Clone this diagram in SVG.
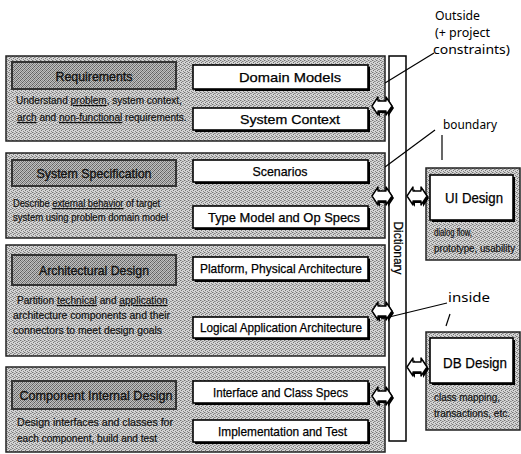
<svg xmlns="http://www.w3.org/2000/svg" width="521" height="454" viewBox="0 0 521 454">
  <defs>
    <!-- halftone screens for the shaded panels -->
    <pattern id="screen" width="4" height="4" patternUnits="userSpaceOnUse">
      <rect width="4" height="4" fill="#d4d4d4"/>
      <rect x="0" y="0" width="1" height="1" fill="#747474"/>
      <rect x="2" y="1" width="1" height="1" fill="#858585"/>
      <rect x="1" y="2" width="1" height="1" fill="#747474"/>
      <rect x="3" y="3" width="1" height="1" fill="#858585"/>
      <rect x="3" y="1" width="1" height="1" fill="#a0a0a0"/>
      <rect x="1" y="0" width="1" height="1" fill="#acacac"/>
    </pattern>
    <pattern id="screenDark" width="4" height="4" patternUnits="userSpaceOnUse">
      <rect width="4" height="4" fill="#c0c0c0"/>
      <rect x="0" y="0" width="1" height="1" fill="#5a5a5a"/>
      <rect x="2" y="0" width="1" height="1" fill="#8a8a8a"/>
      <rect x="1" y="1" width="1" height="1" fill="#7a7a7a"/>
      <rect x="3" y="1" width="1" height="1" fill="#6a6a6a"/>
      <rect x="0" y="2" width="1" height="1" fill="#8a8a8a"/>
      <rect x="2" y="2" width="1" height="1" fill="#5a5a5a"/>
      <rect x="1" y="3" width="1" height="1" fill="#6a6a6a"/>
      <rect x="3" y="3" width="1" height="1" fill="#8a8a8a"/>
    </pattern>
    <!-- small two-headed block arrow, centred on 0,0 -->
    <path id="dblArrow" d="M-10,0 L-4,-9 V-5 H4 V-9 L10,0 L4,9 V5 H-4 V9 Z"/>
    <style>
      .panel { fill: url(#screen); stroke: #222; stroke-width: 1.5; }
      .title { fill: url(#screenDark); stroke: #333; stroke-width: 2; }
      .box { fill: #fff; stroke: #000; stroke-width: 1.6; }
      .shadow { fill: #000; }
      .bar { fill: #fff; stroke: #000; stroke-width: 1.5; }
      .arrow { fill: #fff; stroke: #000; stroke-width: 1.4; stroke-linejoin: round; }
      .arrowShadow { fill: #000; }
      .lbl { font-family: "Liberation Sans", Arial, sans-serif; font-size: 13px; fill: #000; stroke: #000; stroke-width: 0.25; text-anchor: middle; }
      .big { font-size: 15px; }
      .ttl { font-family: "Liberation Sans", Arial, sans-serif; font-size: 13px; fill: #111; stroke: #111; stroke-width: 0.35; text-anchor: middle; }
      .desc { font-family: "Liberation Sans", Arial, sans-serif; font-size: 10.5px; fill: #111; stroke: #111; stroke-width: 0.2; }
      .u { text-decoration: underline; }
      .hand { font-family: "Noto Sans", "DejaVu Sans", sans-serif; font-size: 13px; fill: #000; }
      .callout { stroke: #000; stroke-width: 1.2; fill: none; }
    </style>
  </defs>

  <rect width="521" height="454" fill="#fff"/>

  <!-- Requirements -->
  <g id="requirements">
    <rect class="panel" x="6" y="56" width="379" height="85"/>
    <rect class="title" x="12" y="62" width="164" height="27"/>
    <text class="ttl" x="94" y="80.5" textLength="77" lengthAdjust="spacingAndGlyphs">Requirements</text>
    <text class="desc" transform="translate(16,104) scale(0.955,1)">Understand <tspan class="u">problem</tspan>, system context,</text>
    <text class="desc" transform="translate(17,121) scale(0.96,1)"><tspan class="u">arch</tspan> and <tspan class="u">non-functional</tspan> requirements.</text>
    <rect class="shadow" x="195" y="67" width="175" height="24"/>
    <rect class="box" x="193" y="65" width="175" height="24"/>
    <text class="lbl" x="290" y="81.5" textLength="102" lengthAdjust="spacingAndGlyphs">Domain Models</text>
    <rect class="shadow" x="195" y="110" width="175" height="22"/>
    <rect class="box" x="193" y="108" width="175" height="22"/>
    <text class="lbl" x="290" y="123.5" textLength="100" lengthAdjust="spacingAndGlyphs">System Context</text>
  </g>

  <!-- System Specification -->
  <g id="system-specification">
    <rect class="panel" x="6" y="153" width="379" height="85"/>
    <rect class="title" x="12" y="160" width="164" height="26"/>
    <text class="ttl" x="94" y="177.5" textLength="115" lengthAdjust="spacingAndGlyphs">System Specification</text>
    <text class="desc" transform="translate(13,207) scale(0.885,1)">Describe <tspan class="u">external behavior</tspan> of target</text>
    <text class="desc" x="13" y="221" textLength="155" lengthAdjust="spacingAndGlyphs">system using problem domain model</text>
    <rect class="shadow" x="195" y="162" width="175" height="22"/>
    <rect class="box" x="193" y="160" width="175" height="22"/>
    <text class="lbl" x="280" y="175.5" textLength="55" lengthAdjust="spacingAndGlyphs">Scenarios</text>
    <rect class="shadow" x="195" y="208" width="175" height="22"/>
    <rect class="box" x="193" y="206" width="175" height="22"/>
    <text class="lbl" x="284" y="221.5" textLength="152" lengthAdjust="spacingAndGlyphs">Type Model and Op Specs</text>
  </g>

  <!-- Architectural Design -->
  <g id="architectural-design">
    <rect class="panel" x="6" y="245" width="379" height="111"/>
    <rect class="title" x="12" y="255" width="164" height="30"/>
    <text class="ttl" x="94" y="274.5" textLength="110" lengthAdjust="spacingAndGlyphs">Architectural Design</text>
    <text class="desc" transform="translate(17,304) scale(0.965,1)">Partition <tspan class="u">technical</tspan> and <tspan class="u">application</tspan></text>
    <text class="desc" x="13" y="319" textLength="157" lengthAdjust="spacingAndGlyphs">architecture components and their</text>
    <text class="desc" x="13" y="334" textLength="149" lengthAdjust="spacingAndGlyphs">connectors to meet design goals</text>
    <rect class="shadow" x="195" y="259" width="175" height="23"/>
    <rect class="box" x="193" y="257" width="175" height="23"/>
    <text class="lbl" x="281" y="273" textLength="162" lengthAdjust="spacingAndGlyphs">Platform, Physical Architecture</text>
    <rect class="shadow" x="195" y="319" width="175" height="21"/>
    <rect class="box" x="193" y="317" width="175" height="21"/>
    <text class="lbl" x="281" y="332" textLength="162" lengthAdjust="spacingAndGlyphs">Logical Application Architecture</text>
  </g>

  <!-- Component Internal Design -->
  <g id="component-internal-design">
    <rect class="panel" x="6" y="367" width="379" height="85"/>
    <rect class="title" x="12" y="381" width="164" height="28"/>
    <text class="ttl" x="96" y="399.5" textLength="153" lengthAdjust="spacingAndGlyphs">Component Internal Design</text>
    <text class="desc" x="17" y="426" textLength="156" lengthAdjust="spacingAndGlyphs">Design interfaces and classes for</text>
    <text class="desc" x="17" y="442" textLength="140" lengthAdjust="spacingAndGlyphs">each component, build and test</text>
    <rect class="shadow" x="195" y="383" width="175" height="22"/>
    <rect class="box" x="193" y="381" width="175" height="22"/>
    <text class="lbl" x="280.5" y="396.5" textLength="135" lengthAdjust="spacingAndGlyphs">Interface and Class Specs</text>
    <rect class="shadow" x="195" y="422" width="175" height="22"/>
    <rect class="box" x="193" y="420" width="175" height="22"/>
    <text class="lbl" x="282.5" y="435.5" textLength="129" lengthAdjust="spacingAndGlyphs">Implementation and Test</text>
  </g>

  <!-- Dictionary -->
  <g id="dictionary">
    <rect class="bar" x="389" y="56" width="17" height="385"/>
    <text class="lbl" transform="translate(394,248) rotate(90)" textLength="53" lengthAdjust="spacingAndGlyphs">Dictionary</text>
  </g>

  <!-- UI Design -->
  <g id="ui-design">
    <rect class="panel" x="426" y="168" width="94" height="92"/>
    <rect class="shadow" x="432" y="177" width="83" height="45"/>
    <rect class="box" x="430" y="175" width="83" height="45"/>
    <text class="lbl big" x="474" y="202.5" textLength="58" lengthAdjust="spacingAndGlyphs">UI Design</text>
    <text class="desc" x="434" y="236" textLength="38" lengthAdjust="spacingAndGlyphs">dialog flow,</text>
    <text class="desc" x="434" y="252" textLength="81" lengthAdjust="spacingAndGlyphs">prototype, usability</text>
  </g>

  <!-- DB Design -->
  <g id="db-design">
    <rect class="panel" x="426" y="332" width="94" height="98"/>
    <rect class="shadow" x="432" y="340" width="83" height="45"/>
    <rect class="box" x="430" y="338" width="83" height="45"/>
    <text class="lbl big" x="475" y="367.5" textLength="64" lengthAdjust="spacingAndGlyphs">DB Design</text>
    <text class="desc" x="434" y="401" textLength="66" lengthAdjust="spacingAndGlyphs">class mapping,</text>
    <text class="desc" x="434" y="417" textLength="76" lengthAdjust="spacingAndGlyphs">transactions, etc.</text>
  </g>

  <!-- connectors: block arrows into and out of the dictionary, and the callout lines -->
  <g id="connectors">
    <use href="#dblArrow" class="arrowShadow" x="384" y="108"/>
    <use href="#dblArrow" class="arrow" x="382" y="106"/>
    <use href="#dblArrow" class="arrowShadow" x="384" y="198"/>
    <use href="#dblArrow" class="arrow" x="382" y="196"/>
    <use href="#dblArrow" class="arrowShadow" x="384" y="313"/>
    <use href="#dblArrow" class="arrow" x="382" y="311"/>
    <use href="#dblArrow" class="arrowShadow" x="384" y="398"/>
    <use href="#dblArrow" class="arrow" x="382" y="396"/>
    <use href="#dblArrow" class="arrowShadow" x="419" y="198"/>
    <use href="#dblArrow" class="arrow" x="417" y="196"/>
    <use href="#dblArrow" class="arrowShadow" x="419" y="369"/>
    <use href="#dblArrow" class="arrow" x="417" y="367"/>

    <line class="callout" x1="434" y1="53" x2="385" y2="83"/>
    <line class="callout" x1="435" y1="130" x2="385" y2="167"/>
    <line class="callout" x1="442" y1="135" x2="442" y2="160"/>
    <line class="callout" x1="447" y1="303" x2="381" y2="319"/>
    <line class="callout" x1="450" y1="314" x2="446" y2="326"/>
  </g>

  <!-- region labels -->
  <g id="labels">
    <text class="hand" x="435" y="19.5" textLength="45" lengthAdjust="spacingAndGlyphs">Outside</text>
    <text class="hand" x="435" y="36.5" textLength="55" lengthAdjust="spacingAndGlyphs">(+ project</text>
    <text class="hand" x="433" y="54" textLength="77" lengthAdjust="spacingAndGlyphs">constraints)</text>
    <text class="hand" x="443" y="129" textLength="54" lengthAdjust="spacingAndGlyphs">boundary</text>
    <text class="hand" x="448" y="302" textLength="42" lengthAdjust="spacingAndGlyphs">inside</text>
  </g>
</svg>
